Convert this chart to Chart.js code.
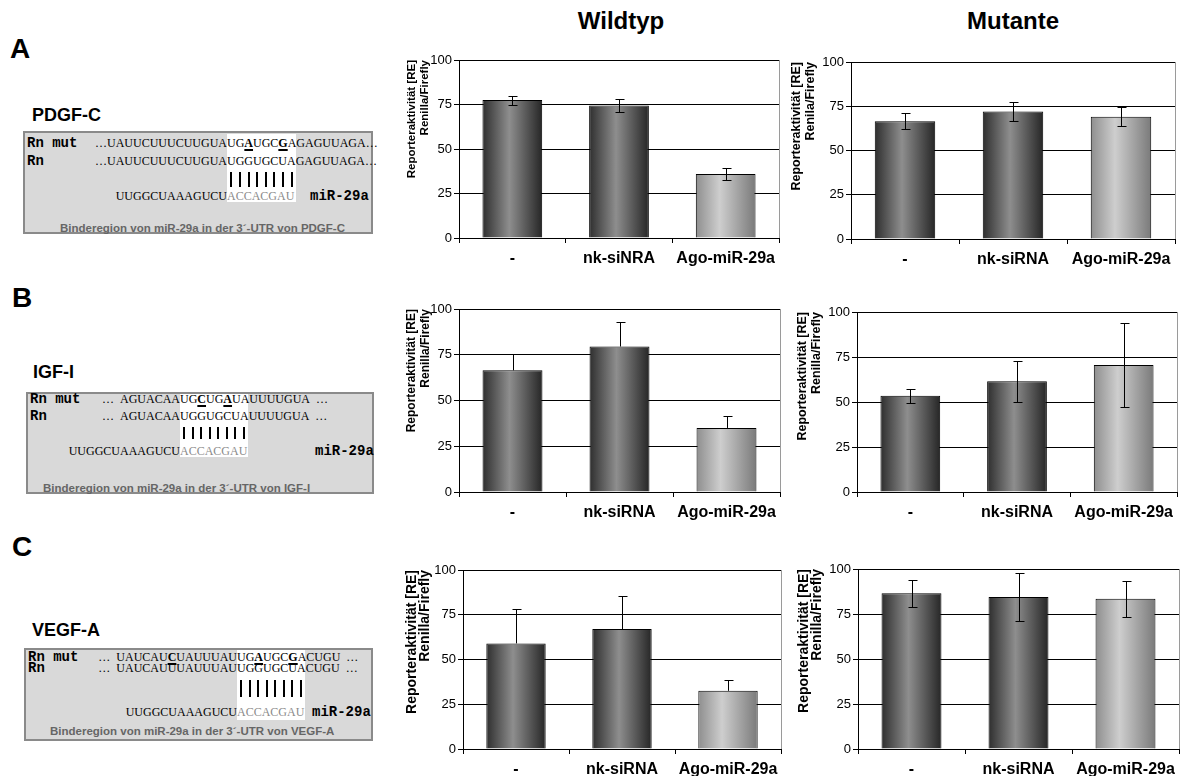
<!DOCTYPE html>
<html lang="de">
<head>
<meta charset="utf-8">
<title>miR-29a Reporterassay</title>
<script src="https://cdn.jsdelivr.net/npm/chart.js@4.4.1/dist/chart.umd.min.js"></script>
<style>
body { margin: 0; background: #fff; font-family: Arial, "Liberation Sans", sans-serif; }
#seite { position: relative; width: 1190px; height: 776px; overflow: hidden; }
.abs { position: absolute; white-space: nowrap; }
.buchstabe { font-weight: bold; font-size: 28px; line-height: 28px; }
.kopf { font-weight: bold; font-size: 24px; line-height: 24px; transform: translateX(-50%); }
.gen { font-weight: bold; font-size: 18px; line-height: 18px; }
.kasten { background: #d9d9d9; border: 2px solid #8a8a8a; box-sizing: border-box; }
.weiss { background: #fff; }
.mono { font-family: "Liberation Mono", "Courier New", monospace; font-weight: bold; font-size: 14px; line-height: 14px; }
.seq { font-family: "Liberation Serif", "Times New Roman", serif; font-size: 12px; line-height: 12px; }
.seq u { font-weight: bold; text-decoration-thickness: 2px; text-underline-offset: 2px; }
.grau { color: #8a8a8a; }
.legende { font-weight: bold; font-size: 11.5px; line-height: 12px; color: #666; }
.strich { position: absolute; top: 0; width: 2px; background: #000; }
canvas { position: absolute; }
</style>
</head>
<body>
<div id="seite">
  <div class="abs kopf" style="left:621px; top:9px;">Wildtyp</div>
  <div class="abs kopf" style="left:1013px; top:9px;">Mutante</div>
  <canvas id="aW"></canvas>
  <canvas id="aM"></canvas>
  <canvas id="bW"></canvas>
  <canvas id="bM"></canvas>
  <canvas id="cW"></canvas>
  <canvas id="cM"></canvas>
</div>
<script>
// Kategorien und Werte
const kategorienA = ['-', 'nk-siNRA', 'Ago-miR-29a'];
const kategorien = ['-', 'nk-siRNA', 'Ago-miR-29a'];
const yTicks = [0, 25, 50, 75, 100];

const pdgfWildtyp = [77.5, 74.5, 36];
const pdgfWildtypFehler = [2.5, 3.5, 3.5];
const pdgfMutante = [66.5, 72, 69];
const pdgfMutanteFehler = [4.5, 5.5, 5.3];

const igfWildtyp = [66.5, 79.5, 35];
const igfWildtypFehler = [9, 13.5, 6.6];
const igfMutante = [53.5, 61.5, 70.5];
const igfMutanteFehler = [4, 11.5, 23.5];

const vegfWildtyp = [59, 67, 32.5];
const vegfWildtypFehler = [19, 18.5, 6.3];
const vegfMutante = [86.5, 84.5, 83.5];
const vegfMutanteFehler = [7.5, 13.5, 10];

const titelRenilla = ['Reporteraktivität [RE]', 'Renilla/Firefly'];
const titelRenila = ['Reporteraktivität [RE]', 'Renila/Firefly'];

const F = 'Arial, "Liberation Sans", sans-serif';
const seite = document.getElementById('seite');

// linke Seite: Bindestellen
const panels = [
    { buchstabe: 'A', bx: 10, by: 35, gen: 'PDGF-C', gx: 32, gy: 106,
      kasten: [23, 131, 350, 103], hx: 227, hw: 69, hy: 134, hh: 68,
      mutY: 137, rnY: 155, strich: [172, 15], mirY: 190, mirX: 310, legX: 60, legY: 222,
      mutVor: '…UAUUCUUUCUUGUA', mutMitte: 'UG<u>A</u>UGC<u>G</u>AGAGUUAGA…',
      rnVor: '…UAUUCUUUCUUGUA', rnMitte: 'UGGUGCUAGAGUUAGA…',
      mirVor: 'UUGGCUAAAGUCU', mirMitte: 'ACCACGAU',
      legende: 'Binderegion von miR-29a in der 3´-UTR von PDGF-C' },
    { buchstabe: 'B', bx: 12, by: 284, gen: 'IGF-I', gx: 33, gy: 363,
      kasten: [26, 392, 348, 102], hx: 180, hw: 68, hy: 394, hh: 63,
      mutY: 393, rnY: 410, strich: [427, 12], mirY: 445, mirX: 315, legX: 43, legY: 482,
      mutVor: '…  AGUACAA', mutMitte: 'UG<u>C</u>UG<u>A</u>UAUUUUGUA  …',
      rnVor: '…  AGUACAA', rnMitte: 'UGGUGCUAUUUUGUA  …',
      mirVor: 'UUGGCUAAAGUCU', mirMitte: 'ACCACGAU',
      legende: 'Binderegion von miR-29a in der 3´-UTR von IGF-I' },
    { buchstabe: 'C', bx: 12, by: 533, gen: 'VEGF-A', gx: 32, gy: 621,
      kasten: [24, 648, 349, 93], hx: 237, hw: 68, hy: 650, hh: 70,
      mutY: 651, rnY: 662, strich: [680, 17], mirY: 706, mirX: 312, legX: 50, legY: 725,
      mutVor: '…  UAUCAU<u>C</u>UAUUUAU', mutMitte: 'UG<u>A</u>UGC<u>G</u>ACUGU  …',
      rnVor: '…  UAUCAUUUAUUUAU', rnMitte: 'UGGUGCUACUGU  …',
      mirVor: 'UUGGCUAAAGUCU', mirMitte: 'ACCACGAU',
      legende: 'Binderegion von miR-29a in der 3´-UTR von VEGF-A' }
];

function div(cls, style, html) {
    const d = document.createElement('div');
    d.className = 'abs ' + cls;
    d.style.cssText = style;
    d.innerHTML = html || '';
    seite.appendChild(d);
    return d;
}

panels.forEach(function(p) {
    div('buchstabe', `left:${p.bx}px; top:${p.by}px;`, p.buchstabe);
    div('gen', `left:${p.gx}px; top:${p.gy}px;`, p.gen);
    const k = p.kasten;
    div('kasten', `left:${k[0]}px; top:${k[1]}px; width:${k[2]}px; height:${k[3]}px;`);
    div('weiss', `left:${p.hx}px; top:${p.hy}px; width:${p.hw}px; height:${p.hh}px;`);
    div('mono', `left:${k[0] + 4}px; top:${p.mutY - 1}px;`, 'Rn mut');
    div('mono', `left:${k[0] + 4}px; top:${p.rnY - 1}px;`, 'Rn');
    div('seq', `right:${1190 - p.hx}px; top:${p.mutY}px;`, p.mutVor.replace(/  /g, '&nbsp;&nbsp;'));
    div('seq', `left:${p.hx}px; top:${p.mutY}px;`, p.mutMitte.replace(/  /g, '&nbsp;&nbsp;'));
    div('seq', `right:${1190 - p.hx}px; top:${p.rnY}px;`, p.rnVor.replace(/  /g, '&nbsp;&nbsp;'));
    div('seq', `left:${p.hx}px; top:${p.rnY}px;`, p.rnMitte.replace(/  /g, '&nbsp;&nbsp;'));
    div('seq', `right:${1190 - p.hx}px; top:${p.mirY}px;`, p.mirVor);
    div('seq grau', `left:${p.hx}px; top:${p.mirY}px;`, p.mirMitte);
    div('mono', `left:${p.mirX}px; top:${p.mirY - 1}px;`, 'miR-29a');
    div('legende', `left:${p.legX}px; top:${p.legY}px;`, p.legende);
    const s = div('', `left:${p.hx}px; top:${p.strich[0]}px; width:${p.hw}px; height:${p.strich[1]}px;`);
    for (let i = 0; i < 8; i++) {
        const st = document.createElement('div');
        st.className = 'strich';
        st.style.left = ((i + 0.5) * p.hw / 8 - 1) + 'px';
        st.style.height = p.strich[1] + 'px';
        s.appendChild(st);
    }
});

// Farbverläufe der Balken
const dunkel = [[0, '#2e2e2e'], [0.45, '#8e8e8e'], [1, '#262626']];
const hell = [[0, '#8e8e8e'], [0.4, '#cecece'], [1, '#7a7a7a']];

const fehlerbalken = {
    id: 'fehlerbalken',
    afterDatasetsDraw(chart, args, opts) {
        const ctx = chart.ctx, y = chart.scales.y;
        const meta = chart.getDatasetMeta(0);
        ctx.save();
        ctx.strokeStyle = '#000';
        ctx.lineWidth = 1;
        meta.data.forEach(function(bar, i) {
            const v = opts.werte[i], e = opts.fehler[i];
            const x = Math.round(bar.x) + 0.5;
            const oben = Math.round(y.getPixelForValue(v + e)) + 0.5;
            const unten = opts.beidseitig ? Math.round(y.getPixelForValue(v - e)) + 0.5 : bar.y;
            ctx.beginPath();
            ctx.moveTo(x, oben); ctx.lineTo(x, unten);
            ctx.moveTo(x - 4, oben); ctx.lineTo(x + 5, oben);
            if (opts.beidseitig) { ctx.moveTo(x - 4, unten); ctx.lineTo(x + 5, unten); }
            ctx.stroke();
        });
        ctx.restore();
    }
};

const rahmenRechts = {
    id: 'rahmenRechts',
    afterDraw(chart) {
        const ctx = chart.ctx, a = chart.chartArea;
        ctx.save();
        ctx.strokeStyle = '#9a9a9a';
        ctx.lineWidth = 1;
        ctx.beginPath();
        ctx.moveTo(Math.round(a.right) + 0.5, a.top);
        ctx.lineTo(Math.round(a.right) + 0.5, a.bottom);
        ctx.stroke();
        ctx.restore();
    }
};

function balken(id, lage, labels, werte, fehler, beidseitig, titel) {
    const cv = document.getElementById(id);
    cv.width = lage.r - lage.l + 80;
    cv.height = lage.b - lage.t + 50;
    cv.style.left = (lage.l - 70) + 'px';
    cv.style.top = (lage.t - 10) + 'px';
    return new Chart(cv, {
        type: 'bar',
        data: {
            labels: labels,
            datasets: [{
                data: werte,
                backgroundColor: function(c) {
                    if (c.type !== 'data' || !c.chart.scales.x) return '#666';
                    const sx = c.chart.scales.x;
                    const mitte = sx.getPixelForValue(c.dataIndex);
                    const halb = sx.width / labels.length * 0.56 / 2;
                    if (!isFinite(mitte) || !isFinite(halb) || halb <= 0) return '#666';
                    const g = c.chart.ctx.createLinearGradient(mitte - halb, 0, mitte + halb, 0);
                    (c.dataIndex === 2 ? hell : dunkel).forEach(s => g.addColorStop(s[0], s[1]));
                    return g;
                },
                borderColor: '#000',
                borderWidth: 1,
                barPercentage: 0.56,
                categoryPercentage: 1
            }]
        },
        options: {
            responsive: false,
            animation: false,
            layout: { padding: { top: 10, right: 10, left: 0, bottom: 0 } },
            plugins: {
                legend: { display: false },
                tooltip: { enabled: false },
                fehlerbalken: { werte: werte, fehler: fehler, beidseitig: beidseitig }
            },
            scales: {
                x: {
                    grid: { display: true, offset: true, drawOnChartArea: false, drawTicks: true, tickLength: 5, color: '#000' },
                    border: { color: '#000', width: 1 },
                    ticks: { color: '#000', font: { size: 16, weight: 'bold', family: F }, padding: 6, maxRotation: 0, autoSkip: false },
                    afterFit: function(s) { s.height = 40; }
                },
                y: {
                    min: 0,
                    max: 100,
                    afterBuildTicks: function(s) { s.ticks = yTicks.map(v => ({ value: v })); },
                    grid: { color: '#000', lineWidth: 1, tickLength: 5 },
                    border: { color: '#000', width: 1 },
                    ticks: { color: '#000', font: { size: 13, family: F }, padding: 2 },
                    title: {
                        display: true,
                        text: titel,
                        align: 'end',
                        color: '#000',
                        font: { size: lage.ts, weight: 'bold', family: F, lineHeight: 13.5 / lage.ts },
                        padding: { top: lage.tp, bottom: 0 }
                    },
                    afterFit: function(s) { s.width = 70; }
                }
            }
        },
        plugins: [fehlerbalken, rahmenRechts]
    });
}

balken('aW', { l: 459, t: 60, r: 779, b: 238, tp: 16, ts: 11.5 }, kategorienA, pdgfWildtyp, pdgfWildtypFehler, true, titelRenilla);
balken('aM', { l: 851, t: 62, r: 1175, b: 239, tp: 9, ts: 12.5 }, kategorien, pdgfMutante, pdgfMutanteFehler, true, titelRenila);
balken('bW', { l: 459, t: 309, r: 780, b: 492, tp: 16, ts: 12 }, kategorien, igfWildtyp, igfWildtypFehler, false, titelRenilla);
balken('bM', { l: 857, t: 312, r: 1177, b: 492, tp: 9, ts: 12.5 }, kategorien, igfMutante, igfMutanteFehler, true, titelRenilla);
balken('cW', { l: 463, t: 570, r: 781, b: 749, tp: 12, ts: 14 }, kategorien, vegfWildtyp, vegfWildtypFehler, false, titelRenilla);
balken('cM', { l: 858, t: 569, r: 1179, b: 749, tp: 9, ts: 14 }, kategorien, vegfMutante, vegfMutanteFehler, true, titelRenilla);
</script>
</body>
</html>
